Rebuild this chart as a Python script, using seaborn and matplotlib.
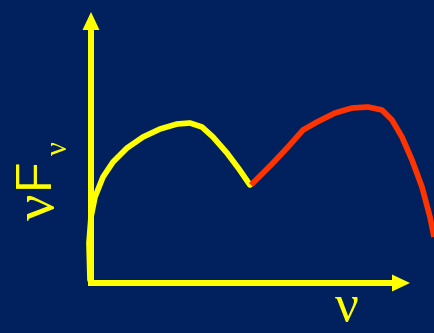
import matplotlib
matplotlib.use("Agg")
import matplotlib.pyplot as plt
import seaborn as sns
import pandas as pd

# Two-hump spectral energy distribution sketch (nu F_nu vs nu)
sync_nu = [90, 89, 91, 95, 103, 113, 127, 143, 160, 177, 190, 202, 213, 227, 239, 250]
sync_flux = [53, 90, 116, 136, 156, 171, 185, 196, 204, 209, 210, 206, 196, 180, 164, 148]

ic_nu = [251, 272, 288, 303, 317, 335, 352, 368, 382, 392, 402, 412, 422, 430, 434]
ic_flux = [148, 169, 186, 203, 211, 220, 225, 226, 223, 213, 196, 173, 146, 116, 96]

BG = "#01215E"
YELLOW = "#FFFF00"
RED = "#FF3300"

sns.set_theme(style="white")
fig = plt.figure(figsize=(4.34, 3.33), dpi=100, facecolor=BG)
ax = fig.add_axes([0, 0, 1, 1])
ax.set_facecolor(BG)
ax.set_xlim(0, 434)
ax.set_ylim(0, 333)
ax.axis("off")

sync = pd.DataFrame({"nu": sync_nu, "flux": sync_flux})
ic = pd.DataFrame({"nu": ic_nu, "flux": ic_flux})

sns.lineplot(data=sync, x="nu", y="flux", sort=False, estimator=None,
             color=YELLOW, lw=4.1, ax=ax, solid_capstyle="round",
             solid_joinstyle="round", zorder=3)
sns.lineplot(data=ic, x="nu", y="flux", sort=False, estimator=None,
             color=RED, lw=4.1, ax=ax, solid_capstyle="butt",
             solid_joinstyle="round", zorder=4)

# axes drawn as filled arrows
arrow_kw = dict(width=6, head_width=17, head_length=18, length_includes_head=True,
                color=YELLOW, lw=0, zorder=2)
ax.arrow(91, 47, 0, 274, **arrow_kw)
ax.arrow(88, 50, 322, 0, **arrow_kw)

# axis labels
ax.text(40, 126, "\u03bd", rotation=90, color=YELLOW, fontsize=42,
        family="Liberation Serif", ha="center", va="center")
ax.text(35, 160, "F", rotation=90, color=YELLOW, fontsize=36,
        family="Liberation Sans", ha="center", va="center")
ax.text(59, 185, "\u03bd", rotation=90, color=YELLOW, fontsize=22,
        family="Liberation Serif", ha="center", va="center")
ax.text(347, 1, "\u03bd", color=YELLOW, fontsize=38,
        family="Liberation Serif", ha="center", va="bottom")

fig.savefig("out.png", dpi=100, facecolor=BG)
